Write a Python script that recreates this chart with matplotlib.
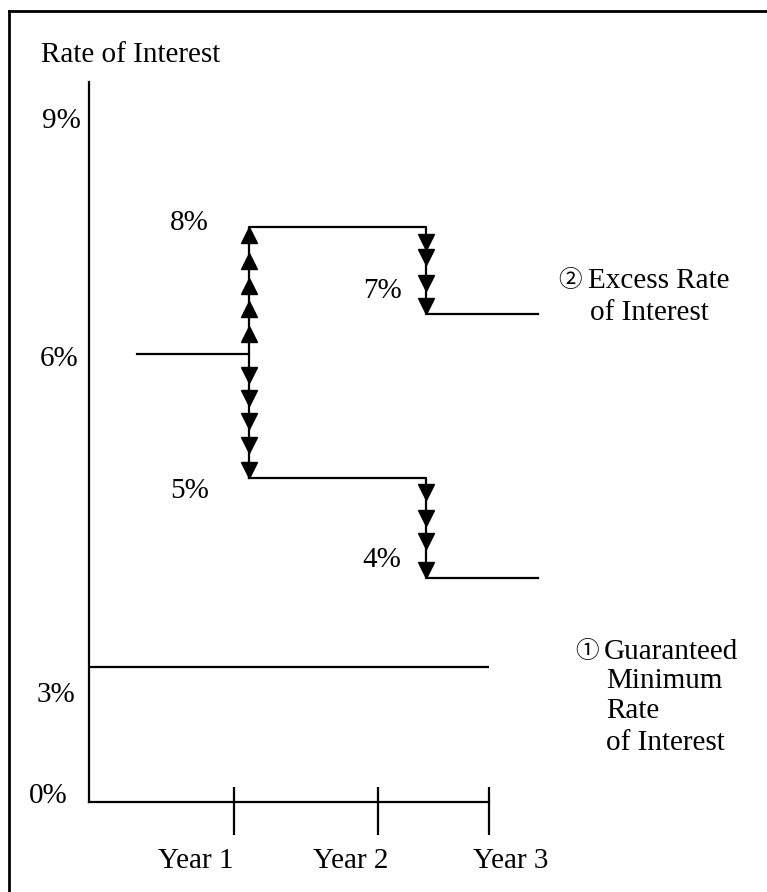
import matplotlib.pyplot as plt
from matplotlib.lines import Line2D
from matplotlib.transforms import offset_copy

plt.rcParams['font.family'] = ['Liberation Serif', 'Noto Sans CJK JP', 'DejaVu Sans']

# schematic drawing: x in "year" units, y in drawing units (8% line = 8)
year_ticks = [1.0, 2.0, 2.77]
year_labels = ['Year 1', 'Year 2', 'Year 3']
year_label_x = [0.74, 1.81, 2.92]

axis_top = 10.02
axis_end = 2.77

# rate path: start level, then year-1 and year-2 moves
step_x = [0.33, 1.11, 2.33, 3.11]
high_levels = [6.23, 8.0, 6.79]
low_levels = [6.23, 4.51, 3.12]
guaranteed = 1.88

# arrow tips along the vertical moves
up_tips_y1 = [7.99, 7.64, 7.29, 6.96, 6.62]
down_tips_y1 = [5.84, 5.52, 5.20, 4.86, 4.51]
down_tips_y2_high = [7.68, 7.47, 7.12, 6.80]
down_tips_y2_low = [4.20, 3.85, 3.53, 3.12]

# left-hand scale labels and the labels next to the steps
scale_labels = ['9%', '6%', '3%', '0%']
scale_pos = [(-0.325, 9.38), (-0.339, 6.07), (-0.36, 1.39), (-0.415, -0.01)]
step_labels = ['8%', '5%', '7%', '4%']
step_pos = [(0.561, 7.96), (0.561, 4.23), (1.896, 7.01), (1.889, 3.27)]

fs = 21
lw = 1.6
ms = 11

fig = plt.figure(figsize=(7.67, 8.92), dpi=100)
ax = fig.add_axes([0, 0, 1, 1])
ax.set_xlim(-0.616, 4.692)
ax.set_ylim(-1.252, 11.158)
ax.axis('off')

# axes of the sketch
ax.plot([0, 0], [0, axis_top], color='black', lw=lw)
ax.plot([0, axis_end], [0, 0], color='black', lw=lw)
ax.vlines(year_ticks, -0.46, 0.21, color='black', lw=lw)

# rate paths
ax.step(step_x, high_levels + [high_levels[-1]], where='post', color='black', lw=lw)
ax.step(step_x[1:], low_levels[1:] + [low_levels[-1]], where='post', color='black', lw=lw)
ax.plot([step_x[1], step_x[1]], [low_levels[0], low_levels[1]], color='black', lw=lw)
ax.hlines(guaranteed, 0, axis_end, color='black', lw=lw)

# arrowheads: tip at the given value
up_tr = offset_copy(ax.transData, fig=fig, y=-ms / 2, units='points')
dn_tr = offset_copy(ax.transData, fig=fig, y=ms / 2, units='points')
ax.plot([step_x[1]] * len(up_tips_y1), up_tips_y1, ls='none', marker='^',
        ms=ms, color='black', transform=up_tr)
ax.plot([step_x[1]] * len(down_tips_y1), down_tips_y1, ls='none', marker='v',
        ms=ms, color='black', transform=dn_tr)
ax.plot([step_x[2]] * len(down_tips_y2_high), down_tips_y2_high, ls='none', marker='v',
        ms=ms, color='black', transform=dn_tr)
ax.plot([step_x[2]] * len(down_tips_y2_low), down_tips_y2_low, ls='none', marker='v',
        ms=ms, color='black', transform=dn_tr)

# text
ax.text(-0.332, 10.30, 'Rate of Interest', fontsize=fs, va='baseline')
for lab, (x, y) in zip(scale_labels, scale_pos):
    ax.text(x, y, lab, fontsize=fs, va='baseline')
for lab, (x, y) in zip(step_labels, step_pos):
    ax.text(x, y, lab, fontsize=fs, va='baseline')
for lab, x in zip(year_labels, year_label_x):
    ax.text(x, -0.918, lab, fontsize=fs, ha='center', va='baseline')

ax.text(3.246, 7.17, '\u2461', fontsize=fs - 4, va='baseline')
ax.text(3.453, 7.15, 'Excess Rate', fontsize=fs, va='baseline')
ax.text(3.467, 6.71, 'of Interest', fontsize=fs, va='baseline')
ax.text(3.363, 2.01, '\u2460', fontsize=fs - 4, va='baseline')
ax.text(3.564, 1.99, 'Guaranteed', fontsize=fs, va='baseline')
ax.text(3.578, 1.59, 'Minimum', fontsize=fs, va='baseline')
ax.text(3.578, 1.17, 'Rate', fontsize=fs, va='baseline')
ax.text(3.578, 0.72, 'of Interest', fontsize=fs, va='baseline')

# frame (top and left edges only show in the picture)
fig.add_artist(Line2D([9 / 767, 1], [1 - 11 / 892, 1 - 11 / 892], color='black', lw=2))
fig.add_artist(Line2D([9 / 767, 9 / 767], [0, 1 - 11 / 892], color='black', lw=2))

fig.savefig('out.png', dpi=100)
